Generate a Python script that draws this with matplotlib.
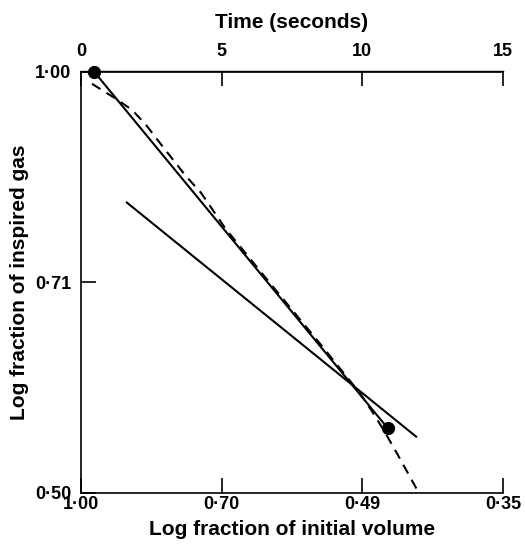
import numpy as np
import matplotlib.pyplot as plt
from matplotlib.ticker import NullLocator

plt.rcParams['font.family'] = ['Liberation Sans', 'DejaVu Sans']
plt.rcParams['font.weight'] = 'bold'

# time ticks (top) and matching log volume fractions (bottom)
time_ticks = [0, 5, 10, 15]
volume_labels = ['1·00', '0·70', '0·49', '0·35']
gas_ticks = [1.0, 0.7071, 0.5]
gas_labels = ['1·00', '0·71', '0·50']

# measured points (time in s, fraction of inspired gas)
dot_t = [0.46, 10.91]
dot_f = [1.00, 0.556]

steep_t = [0.46, 10.91]
steep_f = [1.00, 0.556]

shallow_t = [1.6, 11.94]
shallow_f = [0.807, 0.548]

dashed_t = [0.39, 1.21, 1.81, 2.31, 2.77, 3.27, 3.73, 4.27, 4.69, 5.12,
            6.72, 8.50, 9.92, 10.34, 10.77, 11.27, 12.01]
dashed_f = [0.980, 0.957, 0.939, 0.916, 0.891, 0.865, 0.842, 0.819, 0.796, 0.773,
            0.706, 0.639, 0.589, 0.572, 0.554, 0.532, 0.500]

fig = plt.figure(figsize=(5.25, 5.48), dpi=100)
ax = fig.add_axes([81 / 525, 1 - 493 / 548, 422 / 525, 421.5 / 548])

ax.plot(steep_t, steep_f, color='black', lw=1.5, solid_capstyle='butt')
ax.plot(shallow_t, shallow_f, color='black', lw=1.5, solid_capstyle='butt')
ax.plot(dashed_t, dashed_f, color='black', lw=1.5, ls=(0, (4.8, 3.4)))
ax.plot(dot_t, dot_f, 'o', color='black', ms=8.5, clip_on=False, zorder=5)

ax.set_yscale('log')
ax.set_xlim(0, 15)
ax.set_ylim(0.5, 1.0)
ax.yaxis.set_minor_locator(NullLocator())
ax.set_yticks(gas_ticks)
ax.set_yticklabels(gas_labels)
ax.set_xticks(time_ticks)
ax.set_xticklabels(volume_labels)

ax.spines['right'].set_visible(False)
for s in ['left', 'top', 'bottom']:
    ax.spines[s].set_linewidth(1.2)

ax.tick_params(axis='x', direction='in', length=11, width=1.2, pad=2.5, labelsize=13)
ax.tick_params(axis='y', direction='in', length=11, width=1.2, pad=7, labelsize=13)

top = ax.secondary_xaxis('top')
top.set_xticks(time_ticks)
top.set_xticklabels([str(t) for t in time_ticks])
top.tick_params(direction='in', length=11, width=1.2, pad=8, labelsize=13)
top.spines['top'].set_linewidth(1.0)
top.set_xlabel('Time (seconds)', fontsize=15, fontweight='bold', labelpad=11)

ax.set_xlabel('Log fraction of initial volume', fontsize=15, fontweight='bold', labelpad=5)
ax.set_ylabel('Log fraction of inspired gas', fontsize=15, fontweight='bold', labelpad=4)

fig.savefig('out.png', dpi=100)
